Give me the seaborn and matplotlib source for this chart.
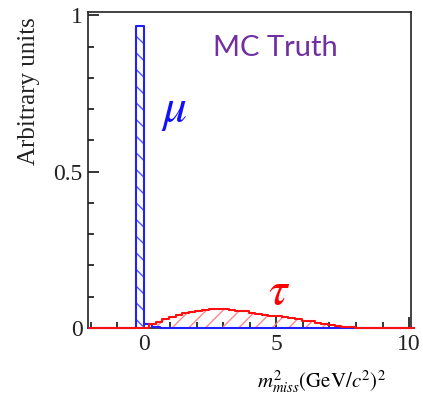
import numpy as np
import pandas as pd
import matplotlib
matplotlib.use("Agg")
import matplotlib.pyplot as plt
from matplotlib.ticker import MultipleLocator
import seaborn as sns

# ---- data ----
# mu histogram (bin width 0.3, starting at -0.3)
mu_centers = [-0.15, 0.15, 0.45]
mu_values = [0.965, 0.014, 0.003]

# tau histogram (bin width 0.25, starting at 0.2)
tau_centers = [0.325, 0.575, 0.825, 1.075, 1.325, 1.575, 1.825, 2.075, 2.325, 2.575,
               2.825, 3.075, 3.325, 3.575, 3.825, 4.075, 4.325, 4.575, 4.825, 5.075,
               5.325, 5.575, 5.825, 6.075, 6.325, 6.575, 6.825, 7.075, 7.325, 7.575,
               7.825, 8.075]
tau_values = [0.012, 0.020, 0.029, 0.036, 0.042, 0.048, 0.052, 0.055, 0.058, 0.060,
              0.060, 0.060, 0.058, 0.056, 0.053, 0.049, 0.046, 0.043, 0.040, 0.037,
              0.034, 0.031, 0.028, 0.024, 0.021, 0.017, 0.014, 0.010, 0.007, 0.004,
              0.002, 0.001]

x_ticks = [0, 5, 10]
y_ticks = [0, 0.5, 1]
y_ticklabels = ["0", "0.5", "1"]

mu_df = pd.DataFrame({"x": mu_centers, "w": mu_values})
tau_df = pd.DataFrame({"x": tau_centers, "w": tau_values})

sns.set_style("ticks")
plt.rcParams["mathtext.fontset"] = "stix"
plt.rcParams["hatch.linewidth"] = 1.0

fig = plt.figure(figsize=(4.23, 4.04), dpi=100)
ax = fig.add_axes([0.208, 0.188, 0.764, 0.782])

blue = "#2020ff"
red = "#ff1010"


def hatched(df, bw, br, hatch_color, hatch):
    n0 = len(ax.collections)
    sns.histplot(data=df, x="x", weights="w", binwidth=bw, binrange=br,
                 element="step", fill=True, ax=ax, color=hatch_color,
                 edgecolor=hatch_color, hatch=hatch, linewidth=0)
    for c in ax.collections[n0:]:
        c.set_facecolor("none")


def outline(df, bw, br, color):
    n0 = len(ax.lines)
    sns.histplot(data=df, x="x", weights="w", binwidth=bw, binrange=br,
                 element="step", fill=False, ax=ax, color=color, linewidth=1.5)
    for ln in ax.lines[n0:]:
        ln.set_zorder(3)
        ln.set_clip_on(False)


# mu: hatched fill + outline
hatched(mu_df, 0.3, (-2.1, 10.2), "#5050ff", "\\\\")
outline(mu_df, 0.3, (-2.1, 10.2), blue)
# tau
hatched(tau_df, 0.25, (-2.05, 10.2), "#ff8a8a", "//")
outline(tau_df, 0.25, (-2.05, 10.2), red)

ax.set_xlim(-2.1, 10.08)
ax.set_ylim(0, 1.01)
ax.set_xticks(x_ticks)
ax.set_xticklabels([str(t) for t in x_ticks])
ax.set_yticks(y_ticks)
ax.set_yticklabels(y_ticklabels)
ax.xaxis.set_minor_locator(MultipleLocator(1))
ax.yaxis.set_minor_locator(MultipleLocator(0.1))
ax.tick_params(which="both", direction="in", top=False, right=False, color="black", width=1.1)
ax.tick_params(which="major", length=8, labelsize=17, pad=4)
ax.tick_params(which="minor", length=4)
for lab in ax.get_xticklabels() + ax.get_yticklabels():
    lab.set_fontfamily("Liberation Serif")
    lab.set_color("#222222")
for s in ax.spines.values():
    s.set_visible(True)
    s.set_linewidth(1.2)
    s.set_color("#222222")

ax.set_ylabel("Arbitrary units", fontfamily="Liberation Serif", fontsize=18, color="#222222")
ax.yaxis.set_label_coords(-0.15, 0.75)
ax.set_xlabel("")

fig.text(0.76, 0.055, r"$m^2_{miss}\left(\mathrm{GeV}/c^2\right)^2$", fontsize=15,
         ha="center", va="center", color="black")

ax.text(0.579, 0.885, "MC Truth", transform=ax.transAxes, fontsize=21, color="#7030A0",
        fontfamily="Lato", ha="center", va="center")
ax.text(0.268, 0.69, r"$\mu$", transform=ax.transAxes, fontsize=34, color="#1010ff",
        ha="center", va="center")
ax.text(0.592, 0.115, r"$\tau$", transform=ax.transAxes, fontsize=34, color="#ff0000",
        ha="center", va="center")

fig.savefig("out.png", dpi=100)
